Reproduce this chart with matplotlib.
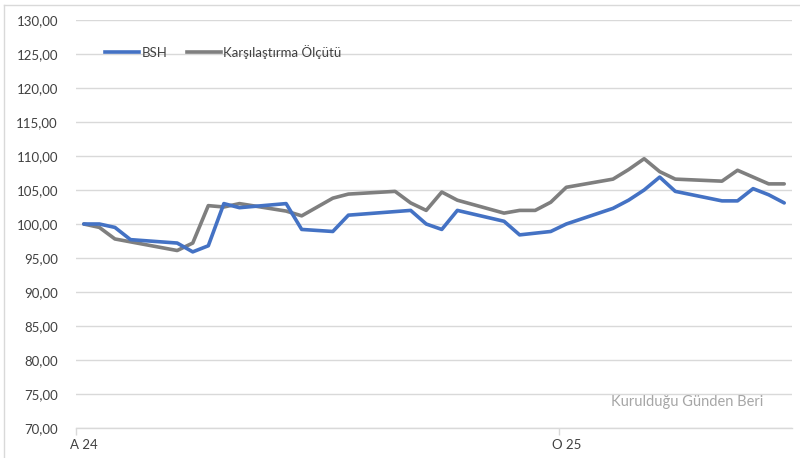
import matplotlib.pyplot as plt
from matplotlib.lines import Line2D
from matplotlib.ticker import FuncFormatter

plt.rcParams["font.family"] = ["Lato", "DejaVu Sans"]

N_POINTS = 46
BSH_IDX = [0, 1, 2, 3, 6, 7, 8, 9, 10, 13, 14, 16, 17, 21, 22, 23, 24, 27, 28,
           30, 31, 34, 35, 36, 37, 38, 41, 42, 43, 44, 45]
BSH_VALUES = [100.0, 100.0, 99.5, 97.7, 97.2, 95.9, 96.8, 103.0, 102.4, 103.0,
              99.2, 98.9, 101.3, 102.0, 100.0, 99.2, 102.0, 100.4, 98.4, 98.9,
              100.0, 102.3, 103.5, 105.0, 106.9, 104.8, 103.4, 103.4, 105.2,
              104.3, 103.1]
BENCH_IDX = [0, 1, 2, 6, 7, 8, 9, 10, 13, 14, 16, 17, 20, 21, 22, 23, 24, 27,
             28, 29, 30, 31, 34, 35, 36, 37, 38, 41, 42, 43, 44, 45]
BENCH_VALUES = [100.0, 99.5, 97.8, 96.1, 97.2, 102.7, 102.5, 103.0, 101.9,
                101.2, 103.8, 104.4, 104.8, 103.1, 102.0, 104.7, 103.5, 101.6,
                102.0, 102.0, 103.2, 105.4, 106.6, 108.0, 109.6, 107.7, 106.6,
                106.3, 107.9, 106.9, 105.9, 105.9]
TICK_POS = [0, 31]
TICK_LABELS = ["A 24", "O 25"]

BLUE = "#4472C4"
GREY = "#7F7F7F"
GRID = "#D9D9D9"

fig = plt.figure(figsize=(8, 4.58), dpi=100)
ax = fig.add_axes([76 / 800, 30 / 458, 716 / 800, 408 / 458])

ax.plot(BSH_IDX, BSH_VALUES, color=BLUE, linewidth=2.6,
        solid_joinstyle="round", solid_capstyle="round", label="BSH", zorder=3)
ax.plot(BENCH_IDX, BENCH_VALUES, color=GREY, linewidth=2.6,
        solid_joinstyle="round", solid_capstyle="round",
        label="Karşılaştırma Ölçütü", zorder=2)

ax.set_xlim(-0.5, N_POINTS - 0.5)
ax.set_ylim(70, 130)
ax.set_yticks(range(70, 131, 5))
ax.yaxis.set_major_formatter(FuncFormatter(lambda v, _: f"{v:.2f}".replace(".", ",")))
ax.tick_params(axis="y", length=0, pad=13, labelsize=9.5, labelcolor="#404040")
ax.grid(axis="y", color=GRID, linewidth=1)
ax.set_axisbelow(True)

# tick marks on category boundaries, labels on the categories
ax.set_xticks([-0.5, TICK_POS[1] - 0.5])
ax.set_xticklabels(["", ""])
ax.tick_params(axis="x", which="major", length=5, color=GRID, width=1)
ax.set_xticks(TICK_POS, minor=True)
ax.set_xticklabels(TICK_LABELS, minor=True)
ax.tick_params(axis="x", which="minor", length=0, pad=8, labelsize=9.5,
               labelcolor="#404040")

for side in ["top", "right", "left"]:
    ax.spines[side].set_visible(False)
ax.spines["bottom"].set_color(GRID)
ax.spines["bottom"].set_linewidth(1)

handles = [Line2D([], [], color=BLUE, linewidth=2.6),
           Line2D([], [], color=GREY, linewidth=2.6)]
ax.legend(handles, ["BSH", "Karşılaştırma Ölçütü"], loc="upper left",
          bbox_to_anchor=(0.024, 0.968), ncol=2, frameon=False, fontsize=9.5,
          handlelength=2.6, handletextpad=0.15, columnspacing=1.5,
          labelcolor="#404040")

fig.text(763 / 800, 1 - 402 / 458, "Kurulduğu Günden Beri", ha="right",
         va="center", fontsize=10.5, color="#A6A6A6")

# chart area border (only top and left edges show in the crop)
fig.add_artist(Line2D([4 / 800, 1], [1 - 5 / 458, 1 - 5 / 458],
                      transform=fig.transFigure, color=GRID, linewidth=1))
fig.add_artist(Line2D([4 / 800, 4 / 800], [0, 1 - 5 / 458],
                      transform=fig.transFigure, color=GRID, linewidth=1))

fig.savefig("out.png", dpi=100)
